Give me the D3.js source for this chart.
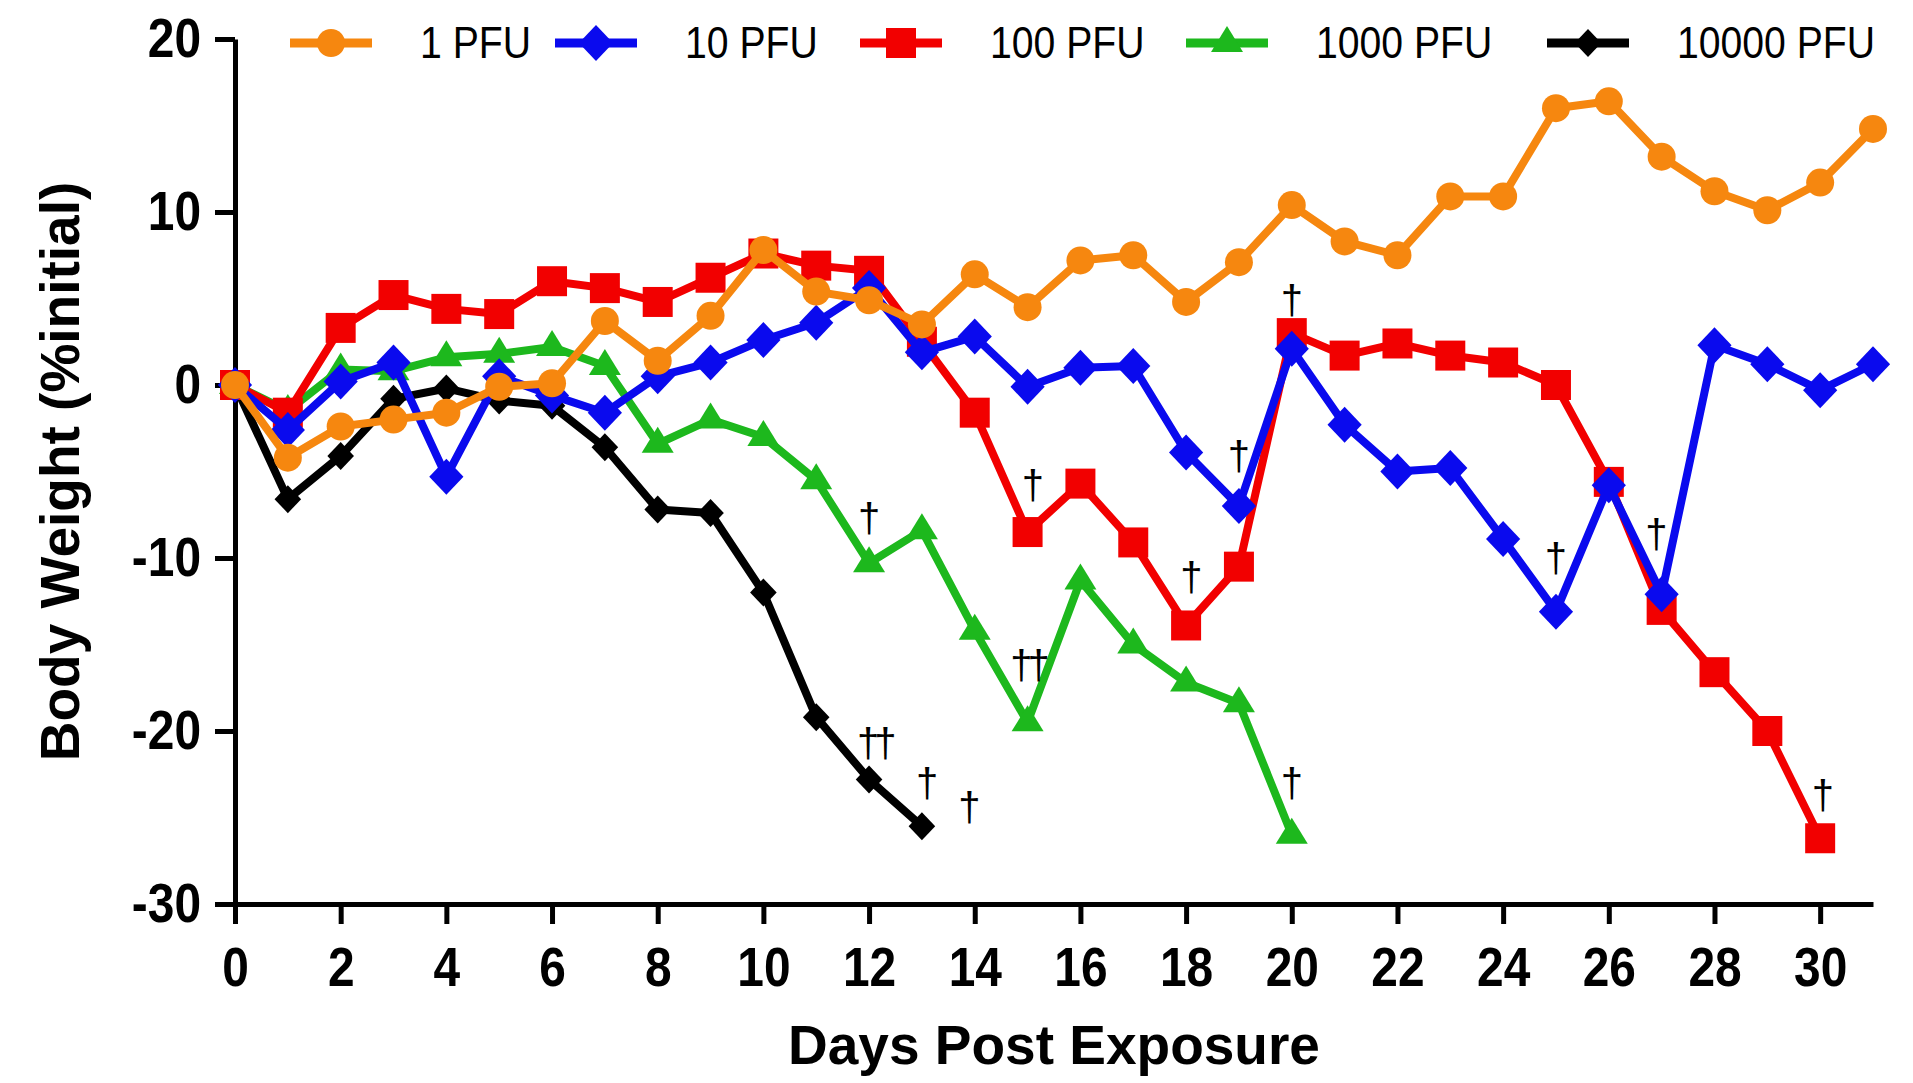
<!DOCTYPE html>
<html>
<head>
<meta charset="utf-8">
<script src="https://cdn.jsdelivr.net/npm/d3@7"></script>
<style>
  body { margin: 0; background: #fff; }
  .tick text { font-family: "Liberation Sans", Arial, sans-serif; font-weight: bold; font-size: 55px; fill: #000; }
  .axis path, .axis line { stroke: #000; stroke-width: 5; }
  .title { font-family: "Liberation Sans", Arial, sans-serif; font-weight: bold; font-size: 55px; }
  .legend text { font-family: "Liberation Sans", Arial, sans-serif; font-size: 45px; }
  .dagger { font-family: "Liberation Sans", Arial, sans-serif; font-size: 40px; }
</style>
</head>
<body>
<div id="chart"></div>
<script>
const width = 1913
const height = 1083

// Datos (día 0..n)
const days = d3.range(0, 32)
const seriesNames = ["1 PFU", "10 PFU", "100 PFU", "1000 PFU", "10000 PFU"]
const pfu1 = [0, -4.2, -2.4, -2.0, -1.6, -0.1, 0.1, 3.7, 1.4, 4.0, 7.8, 5.4, 4.9, 3.5, 6.4, 4.5,
  7.2, 7.5, 4.8, 7.1, 10.4, 8.3, 7.5, 10.9, 10.9, 16.0, 16.4, 13.2, 11.2, 10.1, 11.7, 14.8]
const pfu10 = [0, -2.6, 0.2, 1.3, -5.3, 0.5, -0.6, -1.6, 0.5, 1.3, 2.6, 3.6, 5.6, 1.9, 2.8, -0.1,
  1.0, 1.1, -3.9, -7.0, 2.1, -2.3, -5.0, -4.8, -8.9, -13.1, -5.8, -12.1, 2.3, 1.2, -0.3, 1.2]
const pfu100 = [0, -1.6, 3.3, 5.2, 4.4, 4.1, 6.0, 5.6, 4.8, 6.2, 7.6, 6.9, 6.6, 2.5, -1.6, -8.5,
  -5.7, -9.1, -13.9, -10.5, 3.0, 1.7, 2.4, 1.7, 1.3, 0.0, -5.6, -13.0, -16.6, -20.0, -26.2]
const pfu1000 = [0, -1.5, 0.9, 0.8, 1.6, 1.8, 2.2, 1.1, -3.4, -2.0, -3.0, -5.5, -10.3, -8.4, -14.2,
  -19.5, -11.3, -15.0, -17.2, -18.4, -26.0]
const pfu10000 = [0, -6.6, -4.1, -0.8, -0.2, -0.9, -1.2, -3.6, -7.2, -7.4, -12.0, -19.2, -22.8, -25.5]

// Cruces (muertes): día, valor, texto
const daggerDays = [12.0, 15.1, 15.0, 18.1, 19.0, 20.0, 12.1, 13.1, 13.9, 20.0, 25.0, 26.9, 30.05]
const daggerValues = [-7.7, -5.8, -16.2, -11.1, -4.1, 4.9, -20.7, -23.0, -24.4, -23.0, -10.0, -8.6, -23.7]
const daggerLabels = ["†", "†", "††", "†", "†", "†", "††", "†", "†", "†", "†", "†", "†"]

const yTicks = [-30, -20, -10, 0, 10, 20]
const xTicks = d3.range(0, 31, 2)

const svg = d3.select("#chart")
  .append("svg")
  .attr("width", width)
  .attr("height", height)

// Escalas
const x = d3.scaleLinear().domain([0, 31]).range([235, 1873])
const y = d3.scaleLinear().domain([-30, 20]).range([904, 39])

// Marcadores
const diamond = r => ({ draw(ctx) {
  ctx.moveTo(0, -r); ctx.lineTo(r * 0.95, 0); ctx.lineTo(0, r); ctx.lineTo(-r * 0.95, 0); ctx.closePath()
}})
const triangle = { draw(ctx) {
  ctx.moveTo(0, -17); ctx.lineTo(16, 9); ctx.lineTo(-16, 9); ctx.closePath()
}}
const circle = { draw(ctx) { ctx.arc(0, 0, 14, 0, 2 * Math.PI) } }
const square = { draw(ctx) { ctx.rect(-15, -15, 30, 30) } }

const series = [
  { name: seriesNames[4], values: pfu10000, color: "#000000", symbol: diamond(14) },
  { name: seriesNames[3], values: pfu1000, color: "#1db81d", symbol: triangle },
  { name: seriesNames[2], values: pfu100, color: "#f20000", symbol: square },
  { name: seriesNames[1], values: pfu10, color: "#0a0aee", symbol: diamond(18) },
  { name: seriesNames[0], values: pfu1, color: "#f6870f", symbol: circle },
]

// Ejes (las fuentes del original son condensadas)
const squeeze = 0.87
const xAxisGroup = svg.append("g").attr("class", "axis")
  .attr("transform", `translate(0, ${y(-30)})`)
  .call(d3.axisBottom(x).tickValues(xTicks).tickSize(20).tickSizeOuter(0).tickPadding(23).tickFormat(d => String(d)))
xAxisGroup.selectAll(".tick text").attr("transform", `scale(${squeeze}, 1)`)

const yAxisGroup = svg.append("g").attr("class", "axis")
  .attr("transform", `translate(${x(0)}, 0)`)
  .call(d3.axisLeft(y).tickValues(yTicks).tickSize(20).tickSizeOuter(0).tickPadding(14).tickFormat(d => String(d)))
yAxisGroup.selectAll(".tick text")
  .attr("x", -34 / squeeze)
  .attr("transform", `scale(${squeeze}, 1)`)

// Líneas
const line = d3.line().x((d, i) => x(days[i])).y(d => y(d))
const elementGroup = svg.append("g")
series.forEach(s => {
  const g = elementGroup.append("g")
  g.append("path")
    .datum(s.values)
    .attr("fill", "none")
    .attr("stroke", s.color)
    .attr("stroke-width", 8)
    .attr("stroke-linejoin", "round")
    .attr("d", line)
  g.selectAll("path.pt")
    .data(s.values)
    .join("path")
    .attr("class", "pt")
    .attr("fill", s.color)
    .attr("transform", (d, i) => `translate(${x(days[i])}, ${y(d)})`)
    .attr("d", d3.symbol().type(s.symbol).size(1))
})

// Cruces
svg.selectAll("text.dagger")
  .data(daggerLabels)
  .join("text")
  .attr("class", "dagger")
  .attr("x", (d, i) => x(daggerDays[i]))
  .attr("y", (d, i) => y(daggerValues[i]))
  .attr("text-anchor", "middle")
  .attr("dominant-baseline", "central")
  .attr("letter-spacing", d => d.length > 1 ? -5 : 0)
  .text(d => d)

// Leyenda
const legendX = [290, 555, 860, 1186, 1547]
const legendOrder = [4, 3, 2, 1, 0]
const legend = svg.append("g").attr("class", "legend")
legendOrder.forEach((si, k) => {
  const s = series[si]
  const g = legend.append("g").attr("transform", `translate(${legendX[k]}, 43)`)
  g.append("line").attr("x1", 0).attr("x2", 82).attr("stroke", s.color).attr("stroke-width", 9)
  g.append("path").attr("transform", "translate(41, 0)").attr("fill", s.color)
    .attr("d", d3.symbol().type(s.symbol).size(1))
  g.append("text")
    .attr("transform", `translate(130, 15) scale(${squeeze}, 1)`)
    .text(s.name)
})

// Títulos
svg.append("text").attr("class", "title")
  .attr("x", (x(0) + x(31)) / 2).attr("y", 1064)
  .attr("text-anchor", "middle")
  .text("Days Post Exposure")
svg.append("text").attr("class", "title")
  .attr("transform", `translate(79, ${(y(20) + y(-30)) / 2}) rotate(-90)`)
  .attr("text-anchor", "middle")
  .text("Body Weight (%initial)")
</script>
</body>
</html>
